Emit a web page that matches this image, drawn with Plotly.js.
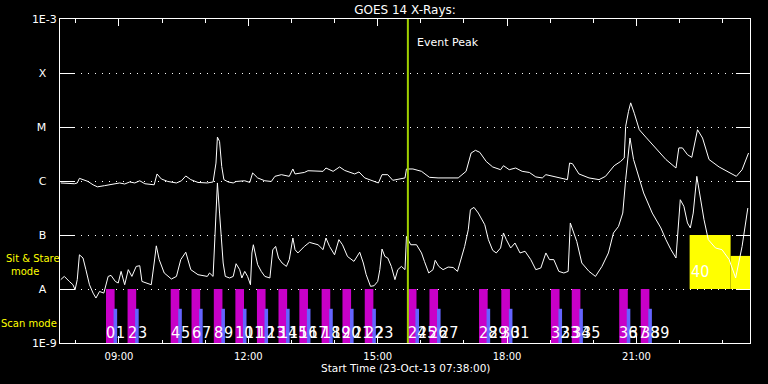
<!DOCTYPE html>
<html>
<head>
<meta charset="utf-8">
<script src="https://cdn.plot.ly/plotly-3.0.1.min.js"></script>
<style>html,body{margin:0;padding:0;background:#000;}#chart{width:768px;height:384px;}</style>
</head>
<body>
<div id="chart"></div>
<script>
// ---- data ----
var day = '2013-10-23 ';
var rangeStart = '07:38';
var rangeEnd = '23:38';
var eventPeak = '15:42';

// GOES 14 long channel (upper curve), W/m^2
var longTimes = ['07:39','07:58','08:02','08:05','08:10','08:17','08:24','08:30','08:40','08:49','09:01','09:08','09:15','09:22','09:29','09:36','09:49','09:53','09:59','10:08','10:20','10:27','10:33','10:40','10:50','11:03','11:11','11:15','11:17','11:20','11:23','11:26','11:32','11:39','11:43','11:55','12:02','12:06','12:13','12:23','12:32','12:37','12:46','12:57','13:02','13:05','13:18','13:23','13:44','13:48','13:58','14:07','14:14','14:28','14:34','14:42','14:54','15:01','15:06','15:14','15:21','15:28','15:38','15:40','15:49','16:01','16:12','16:24','16:52','17:03','17:10','17:16','17:22','17:31','17:40','17:51','17:55','18:03','18:12','18:21','18:31','18:40','18:49','18:54','19:03','19:15','19:24','19:27','19:31','19:40','19:54','20:08','20:17','20:29','20:38','20:43','20:45','20:49','20:52','20:57','21:04','21:13','21:27','21:41','21:55','21:59','22:04','22:11','22:17','22:20','22:25','22:32','22:41','22:55','23:09','23:19','23:27','23:36'];
var longFlux = [9.2e-7,8.9e-7,9.2e-7,1.12e-6,1.06e-6,9.8e-7,8.5e-7,7.8e-7,8.2e-7,8.5e-7,9.2e-7,8.8e-7,9.6e-7,9.2e-7,1.01e-6,8.9e-7,8.5e-7,1.35e-6,1.09e-6,9.8e-7,9.2e-7,1.01e-6,1.24e-6,1.06e-6,9.4e-7,9.2e-7,9.6e-7,2.15e-6,6.5e-6,5.4e-6,1.86e-6,1.06e-6,9.6e-7,9.2e-7,9.8e-7,1.01e-6,9.4e-7,1.41e-6,1.14e-6,1.01e-6,9.8e-7,1.22e-6,1.31e-6,1.22e-6,1.67e-6,1.35e-6,1.44e-6,1.55e-6,1.51e-6,1.74e-6,1.51e-6,1.82e-6,1.57e-6,1.35e-6,1.47e-6,1.14e-6,9.8e-7,9.2e-7,1.31e-6,1.31e-6,1.03e-6,1.06e-6,1.14e-6,1.67e-6,1.67e-6,1.51e-6,1.17e-6,1.14e-6,1.14e-6,1.51e-6,3.3e-6,3.7e-6,3.4e-6,2.3e-6,1.82e-6,1.62e-6,1.92e-6,1.62e-6,1.74e-6,1.51e-6,1.44e-6,1.19e-6,1.14e-6,1.31e-6,1.22e-6,1.14e-6,1.06e-6,2.15e-6,2.09e-6,1.35e-6,1.14e-6,1.06e-6,1.22e-6,1.92e-6,2.3e-6,2.67e-6,1.03e-5,1.95e-5,2.8e-5,1.8e-5,8.9e-6,6.5e-6,4.1e-6,2.5e-6,1.74e-6,4.1e-6,4.1e-6,3.07e-6,2.74e-6,4.4e-6,8.9e-6,6.25e-6,2.5e-6,1.82e-6,1.41e-6,1.22e-6,1.62e-6,3.3e-6];

// GOES 14 short channel (lower curve), W/m^2
var shortTimes = ['07:39','07:44','07:51','07:56','07:59','08:02','08:05','08:10','08:14','08:19','08:24','08:28','08:33','08:39','08:45','08:49','08:55','08:59','09:03','09:08','09:13','09:18','09:24','09:29','09:32','09:38','09:45','09:49','09:52','09:56','10:03','10:13','10:20','10:26','10:33','10:40','10:50','11:03','11:06','11:11','11:14','11:17','11:20','11:25','11:28','11:34','11:39','11:43','11:48','11:51','11:55','11:59','12:03','12:05','12:07','12:13','12:18','12:23','12:30','12:34','12:38','12:42','12:47','12:53','12:57','13:02','13:05','13:09','13:18','13:25','13:37','13:44','13:48','13:53','14:00','14:06','14:11','14:18','14:27','14:35','14:40','14:44','14:50','14:55','15:00','15:03','15:06','15:10','15:14','15:19','15:24','15:28','15:33','15:38','15:40','15:46','15:54','16:01','16:05','16:11','16:17','16:20','16:25','16:31','16:38','16:45','16:51','16:56','17:01','17:06','17:09','17:14','17:20','17:29','17:34','17:40','17:45','17:51','17:55','17:59','18:05','18:11','18:18','18:25','18:33','18:40','18:47','18:54','18:59','19:05','19:12','19:19','19:25','19:28','19:37','19:44','19:54','20:03','20:12','20:21','20:28','20:35','20:41','20:45','20:51','20:56','21:04','21:10','21:22','21:34','21:41','21:48','21:55','22:01','22:06','22:11','22:15','22:19','22:24','22:29','22:34','22:40','22:50','22:59','23:09','23:18','23:27','23:35'];
var shortFlux = [1.49e-8,1.71e-8,1.38e-8,1.2e-8,9.7e-9,1.49e-8,4.3e-8,3.75e-8,2.28e-8,1.2e-8,8.4e-9,6.8e-9,9.0e-9,8.4e-9,1.71e-8,1.79e-8,1.38e-8,1.29e-8,2.12e-8,1.2e-8,2.28e-8,1.71e-8,2.62e-8,2.7e-8,1.38e-8,1.29e-8,1.2e-8,3.03e-8,6.3e-8,3.5e-8,1.98e-8,1.53e-8,1.71e-8,3.5e-8,4.8e-8,2.28e-8,1.84e-8,1.71e-8,1.98e-8,1.71e-8,1.25e-7,9.2e-7,2.55e-7,3.03e-8,1.71e-8,1.6e-8,1.71e-8,2.94e-8,2.28e-8,1.6e-8,2.12e-8,1.71e-8,1.2e-8,4.65e-8,6.6e-8,2.82e-8,2.12e-8,1.71e-8,1.6e-8,5.3e-8,6.15e-8,3.75e-8,3.03e-8,2.62e-8,3.5e-8,8.8e-8,5.35e-8,4.65e-8,6.15e-8,7.3e-8,6.6e-8,5.35e-8,8.8e-8,6.15e-8,4.3e-8,8.2e-8,6.6e-8,4.0e-8,3.25e-8,4.8e-8,3.03e-8,1.84e-8,1.12e-8,1.15e-8,1.38e-8,2.28e-8,5.5e-8,4.0e-8,3.75e-8,2.62e-8,1.49e-8,2.28e-8,2.62e-8,2.28e-8,9.4e-8,6.6e-8,6.6e-8,4.65e-8,3.25e-8,1.98e-8,2.28e-8,3.4e-8,2.62e-8,2.28e-8,2.55e-8,2.5e-8,2.12e-8,3.5e-8,6.15e-8,1.25e-7,2.94e-7,3.25e-7,2.55e-7,1.55e-7,8.2e-8,5.2e-8,4.65e-8,5.75e-8,1.09e-7,8.2e-8,5.75e-8,7.1e-8,4.65e-8,5.0e-8,3.5e-8,2.28e-8,2.45e-8,4.65e-8,3.5e-8,3.5e-8,2.12e-8,1.98e-8,2.12e-8,1.67e-7,7.6e-8,3.03e-8,2.12e-8,1.71e-8,2.62e-8,4.65e-8,1.09e-7,1.44e-7,2.55e-7,1.06e-6,6.25e-6,2.5e-6,1.06e-6,6.0e-7,2.55e-7,1.35e-7,8.2e-8,5.35e-8,3.75e-8,4.5e-7,3.4e-7,1.67e-7,1.35e-7,2.55e-7,1.22e-6,4.5e-7,1.92e-7,8.2e-8,5.75e-8,5.35e-8,3.5e-8,1.6e-8,6.15e-8,3.16e-7];

// Scan mode: start times of scan pairs
var scanStarts = ['08:42','09:12','10:12','10:41','11:12','11:42','12:12','12:42','13:11','13:42','14:11','14:42','15:42','16:12','17:21','17:52','19:01','19:30','20:36','21:06'];
var scanLabels = ['0','1','2','3','4','5','6','7','8','9','10','11','12','13','14','15','16','17','18','19','20','21','22','23','24','25','26','27','28','29','30','31','32','33','34','35','36','37','38','39'];
var scanTop = 1e-8, scanSubTop = 4.3e-9, axisBottom = 1e-9;

// Sit & Stare mode intervals
var stareStarts = ['22:14','23:11'];
var stareEnds = ['23:11','23:38'];
var stareTop = [1e-7, 4.1e-8];
var stareBase = 1e-8;
var stareLabel = '40';

// Y axis class labels
var yTickVals = [1e-9,1e-8,1e-7,1e-6,1e-5,1e-4,1e-3];
var yTickText = ['1E-9','A','B','C','M','X','1E-3'];

// ---- build ----
function t(s){ return day + s; }
function ms(a,b){ return (new Date(day.trim()+'T'+b+':00') - new Date(day.trim()+'T'+a+':00')); }
var MIN = 60000;
var nb = '\u00a0\u00a0\u00a0';
var tickText = yTickText.map(function(s){ return s.length === 1 ? s + nb : s; });

var traces = [];
// sit & stare yellow blocks
traces.push({
  type:'bar', x: stareStarts.map(t), y: stareTop.map(function(v){return v - stareBase;}),
  base: stareBase, width: stareStarts.map(function(s,i){return ms(s, stareEnds[i]);}),
  offset: 0, marker:{color:'#ffff00', line:{width:0}}, hoverinfo:'skip'
});
// scan magenta bars
traces.push({
  type:'bar', x: scanStarts.map(t), y: scanStarts.map(function(){return scanTop - axisBottom;}),
  base: axisBottom, width: 12*MIN, offset: 0,
  marker:{color:'#c800c8', line:{width:0}}, hoverinfo:'skip'
});
// scan blue sub-bars
traces.push({
  type:'bar', x: scanStarts.map(t), y: scanStarts.map(function(){return scanSubTop - axisBottom;}),
  base: axisBottom, width: 5*MIN, offset: 10.5*MIN,
  marker:{color:'#6464ff', line:{width:0}}, hoverinfo:'skip'
});
// curves
traces.push({type:'scatter', mode:'lines', x: longTimes.map(t), y: longFlux, line:{color:'#ffffff', width:1}, hoverinfo:'skip'});
traces.push({type:'scatter', mode:'lines', x: shortTimes.map(t), y: shortFlux, line:{color:'#ffffff', width:1}, hoverinfo:'skip'});

var annotations = [];
var labelY = Math.log10(1.55e-9);
var numFont = {family:'Liberation Sans Narrow, DejaVu Sans Condensed, Liberation Sans, sans-serif', size:16, color:'#ffffff'};
scanLabels.forEach(function(lab, i){
  var pair = Math.floor(i/2);
  var d = new Date(day.trim()+'T'+scanStarts[pair]+':00');
  if (i % 2 === 1) d = new Date(d.getTime() + 14*MIN);
  var pad = function(n){return (n<10?'0':'')+n;};
  var xs = day + pad(d.getHours()) + ':' + pad(d.getMinutes());
  annotations.push({x: xs, y: labelY, xref:'x', yref:'y', text: lab, showarrow:false,
    xanchor:'left', yanchor:'middle', xshift:-2, font:numFont});
});
annotations.push({x: t(stareStarts[0]), y: Math.log10(2.14e-8), xref:'x', yref:'y', text: stareLabel, showarrow:false,
  xanchor:'left', yanchor:'middle', xshift:-1, font:numFont});
annotations.push({x: t(eventPeak), y: 0.928, xref:'x', yref:'paper', text:'Event Peak', showarrow:false,
  xanchor:'left', yanchor:'middle', xshift:7, font:{family:'DejaVu Sans', size:11, color:'#ffffff'}});
var yellowFont = {family:'DejaVu Sans', size:10, color:'#ffff00'};
annotations.push({x: (33-60)/690, y: (343.3-258.5)/324, xref:'paper', yref:'paper', text:'Sit & Stare', showarrow:false,
  xanchor:'center', yanchor:'middle', font:yellowFont});
annotations.push({x: (24.5-60)/690, y: (343.3-271.5)/324, xref:'paper', yref:'paper', text:'mode', showarrow:false,
  xanchor:'center', yanchor:'middle', font:yellowFont});
annotations.push({x: (29-60)/690, y: (343.3-323.5)/324, xref:'paper', yref:'paper', text:'Scan mode', showarrow:false,
  xanchor:'center', yanchor:'middle', font:yellowFont});
annotations.push({x: 0.5, y: (343.3-368)/324, xref:'paper', yref:'paper', text:'Start Time (23-Oct-13 07:38:00)', showarrow:false,
  xanchor:'center', yanchor:'middle', font:{family:'DejaVu Sans', size:10.5, color:'#ffffff'}});

var layout = {
  width:768, height:384,
  margin:{l:60, r:18, t:19, b:41, pad:0},
  paper_bgcolor:'#000000', plot_bgcolor:'#000000',
  showlegend:false, barmode:'overlay', hovermode:false,
  title:{text:'GOES 14 X-Rays:', x:0.5, xref:'paper', y:1-9.5/384, yref:'container', yanchor:'middle', xanchor:'center',
    font:{family:'DejaVu Sans', size:12, color:'#ffffff'}},
  xaxis:{type:'date', range:[t(rangeStart), t(rangeEnd)], tick0: day+'00:00', dtick: 3*60*MIN, tickformat:'%H:%M',
    ticks:'inside', ticklen:7, tickcolor:'#ffffff', tickwidth:1, showline:true, linecolor:'#ffffff', linewidth:1, mirror:'ticks',
    showgrid:false, zeroline:false, ticklabelstandoff:4,
    tickfont:{family:'DejaVu Sans', size:10, color:'#ffffff'},
    minor:{dtick:60*MIN, ticks:'inside', ticklen:3.5, tickcolor:'#ffffff', tickwidth:1, showgrid:false}},
  yaxis:{type:'log', range:[-9,-3], tickvals:yTickVals, ticktext:tickText,
    ticks:'inside', ticklen:14, tickcolor:'#ffffff', tickwidth:1, showline:true, linecolor:'#ffffff', linewidth:1, mirror:'ticks',
    showgrid:true, gridcolor:'#ffffff', gridwidth:1, griddash:'1px,6px', zeroline:false,
    tickfont:{family:'DejaVu Sans', size:11, color:'#ffffff'}},
  shapes:[{type:'line', xref:'x', yref:'paper', x0:t(eventPeak), x1:t(eventPeak), y0:0, y1:1,
    line:{color:'#a0d000', width:2}, layer:'above'}],
  annotations: annotations
};

Plotly.newPlot('chart', traces, layout, {staticPlot:true, displayModeBar:false});
</script>
</body>
</html>
